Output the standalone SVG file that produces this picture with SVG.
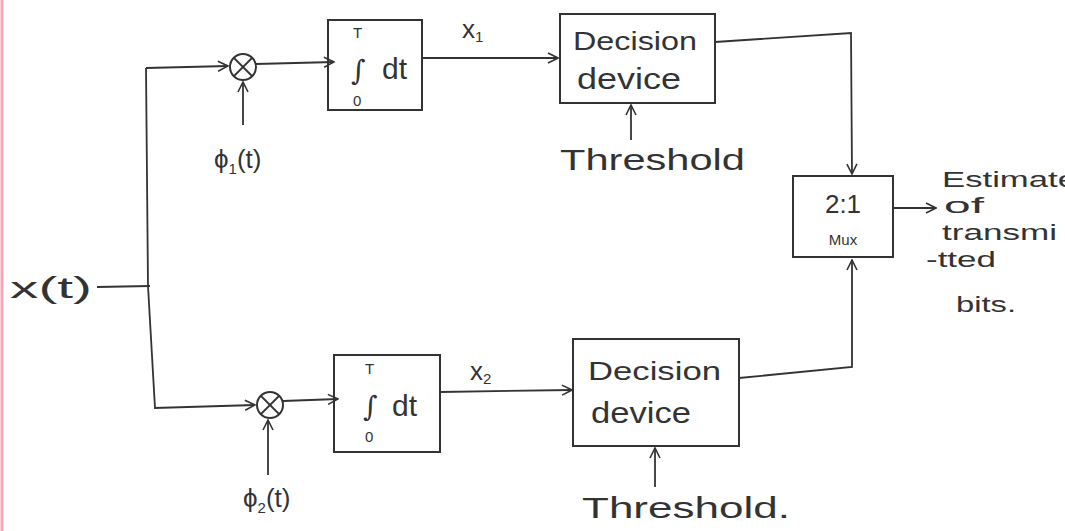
<svg xmlns="http://www.w3.org/2000/svg" width="1065" height="531" viewBox="0 0 1065 531">
<defs>
<marker id="arr" viewBox="0 0 12 12" refX="11" refY="6" markerWidth="12" markerHeight="12" markerUnits="userSpaceOnUse" orient="auto">
<path d="M1,1 L11,6 L1,11" fill="none" stroke="#333" stroke-width="1.6"/>
</marker>
<style>
.box{fill:none;stroke:#333;stroke-width:2}
.ln{fill:none;stroke:#333;stroke-width:1.8}
.a{fill:none;stroke:#333;stroke-width:1.8;marker-end:url(#arr)}
text{font-family:"Liberation Sans","DejaVu Sans",sans-serif;fill:#333}
.big{font-size:30px}
.mid{font-size:26px}
.out{font-size:22px}
.sm{font-size:15px}
.int{font-family:"DejaVu Serif","Liberation Serif",serif;font-size:28px}
</style>
</defs>
<rect width="1065" height="531" fill="#fff"/>
<line x1="2" y1="0" x2="2" y2="531" stroke="#f4a6b6" stroke-width="3"/>

<g id="input">
<text class="big" x="10" y="298" textLength="82" lengthAdjust="spacingAndGlyphs">x(t)</text>
</g>

<g id="mult1">
<circle cx="243" cy="67" r="13" class="box"/>
<line x1="234" y1="58" x2="252" y2="76" class="ln"/>
<line x1="252" y1="58" x2="234" y2="76" class="ln"/>
<text class="mid" x="214" y="168">ϕ<tspan font-size="15" dy="6">1</tspan><tspan dy="-6">(t)</tspan></text>
</g>

<g id="int1">
<rect x="328" y="20" width="94" height="90" class="box"/>
<text class="sm" x="353" y="38">T</text>
<text class="int" x="351" y="80">∫</text>
<text class="sm" x="353" y="106">0</text>
<text class="big" x="382" y="79">dt</text>
</g>
<text id="x1label" class="mid" x="462" y="38">x<tspan font-size="15" dy="4">1</tspan></text>

<g id="dec1">
<rect x="560" y="14" width="155" height="89" class="box"/>
<text class="mid" x="573" y="50" textLength="124" lengthAdjust="spacingAndGlyphs">Decision</text>
<text class="big" x="577" y="89" textLength="104" lengthAdjust="spacingAndGlyphs">device</text>
</g>
<g id="thr1">
<text class="big" x="560" y="170" textLength="185" lengthAdjust="spacingAndGlyphs">Threshold</text>
</g>

<g id="mult2">
<circle cx="270" cy="405" r="13" class="box"/>
<line x1="261" y1="396" x2="279" y2="414" class="ln"/>
<line x1="279" y1="396" x2="261" y2="414" class="ln"/>
<text class="mid" x="243" y="507">ϕ<tspan font-size="15" dy="6">2</tspan><tspan dy="-6">(t)</tspan></text>
</g>

<g id="int2">
<rect x="334" y="355" width="106" height="97" class="box"/>
<text class="sm" x="365" y="374">T</text>
<text class="int" x="363" y="416">∫</text>
<text class="sm" x="365" y="442">0</text>
<text class="big" x="392" y="416">dt</text>
</g>
<text id="x2label" class="mid" x="470" y="380">x<tspan font-size="15" dy="4">2</tspan></text>

<g id="dec2">
<rect x="573" y="339" width="166" height="107" class="box"/>
<text class="mid" x="588" y="380" textLength="133" lengthAdjust="spacingAndGlyphs">Decision</text>
<text class="big" x="591" y="423" textLength="100" lengthAdjust="spacingAndGlyphs">device</text>
</g>
<g id="thr2">
<text class="big" x="582" y="518" textLength="208" lengthAdjust="spacingAndGlyphs">Threshold.</text>
</g>

<g id="mux">
<rect x="793" y="176" width="100" height="81" class="box"/>
<text class="mid" x="843" y="213" text-anchor="middle">2:1</text>
<text class="sm" x="843" y="245" text-anchor="middle">Mux</text>
</g>

<g id="output">
<text class="out" x="942" y="187" textLength="135" lengthAdjust="spacingAndGlyphs">Estimate</text>
<text class="out" x="944" y="213" textLength="40" lengthAdjust="spacingAndGlyphs">of</text>
<text class="out" x="942" y="240" textLength="115" lengthAdjust="spacingAndGlyphs">transmi</text>
<text class="out" x="926" y="267" textLength="70" lengthAdjust="spacingAndGlyphs">-tted</text>
<text class="out" x="956" y="312" textLength="60" lengthAdjust="spacingAndGlyphs">bits.</text>
</g>

<g id="connectors">
<polyline points="97,287 150,286" class="ln"/>
<polyline points="146,68 148,286 155,408 255,405" class="a"/>
<polyline points="146,68 228,66" class="a"/>
<line x1="243" y1="125" x2="243" y2="82" class="a"/>
<line x1="256" y1="64" x2="334" y2="62" class="a"/>
<line x1="422" y1="58" x2="558" y2="58" class="a"/>
<line x1="631" y1="140" x2="631" y2="105" class="a"/>
<polyline points="715,42 851,33 852,174" class="a"/>
<line x1="268" y1="475" x2="268" y2="420" class="a"/>
<line x1="283" y1="401" x2="338" y2="399" class="a"/>
<line x1="440" y1="392" x2="572" y2="390" class="a"/>
<line x1="655" y1="487" x2="655" y2="448" class="a"/>
<polyline points="739,378 852,367 852,260" class="a"/>
<line x1="893" y1="208" x2="936" y2="208" class="a"/>
</g>
</svg>
